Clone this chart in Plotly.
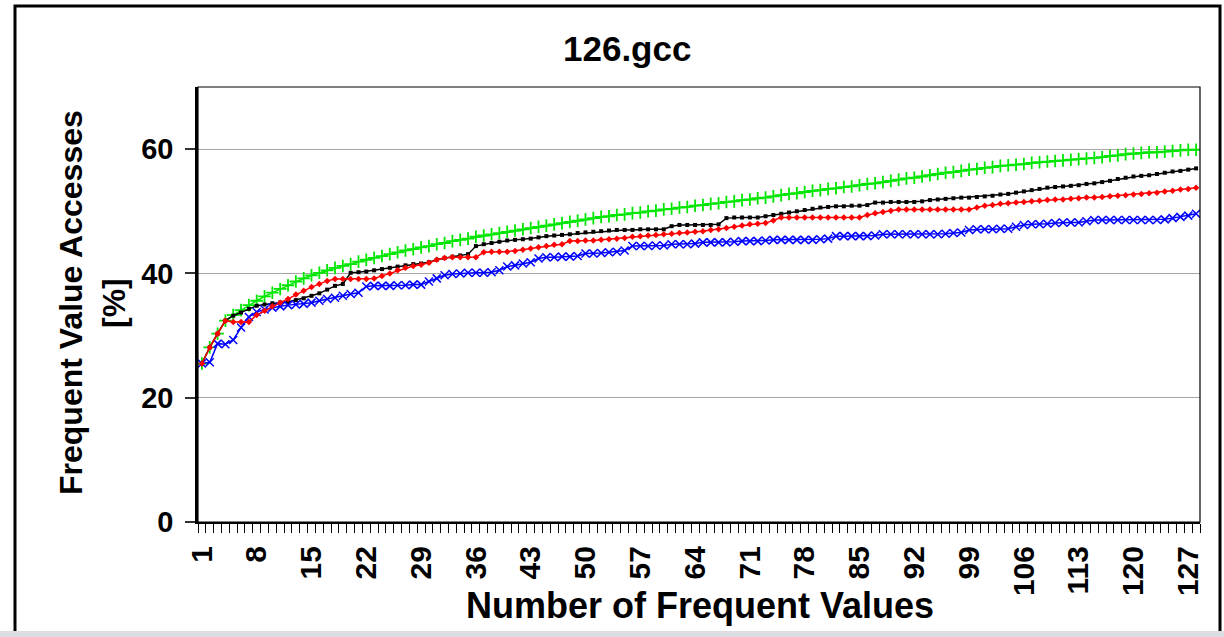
import plotly.graph_objects as go

# Number of frequent values (category axis 1..128)
n_values = list(range(1, 129))

green_pct = [
    25.5, 28.1, 30.3, 32.4, 33.3, 34.1, 34.9, 35.6, 36.3, 36.9,
    37.5, 38.1, 38.7, 39.2, 39.7, 40.1, 40.5, 40.9, 41.2, 41.5,
    41.9, 42.2, 42.5, 42.8, 43.1, 43.4, 43.7, 43.9, 44.2, 44.4,
    44.7, 44.9, 45.2, 45.4, 45.6, 45.9, 46.1, 46.3, 46.5, 46.7,
    46.9, 47.1, 47.3, 47.5, 47.7, 47.9, 48.1, 48.3, 48.5, 48.7,
    48.9, 49.1, 49.2, 49.4, 49.5, 49.7, 49.8, 50.0, 50.1, 50.3,
    50.4, 50.6, 50.7, 50.9, 51.0, 51.2, 51.3, 51.5, 51.6, 51.8,
    51.9, 52.1, 52.2, 52.4, 52.6, 52.8, 52.9, 53.1, 53.3, 53.4,
    53.6, 53.7, 53.9, 54.0, 54.2, 54.4, 54.5, 54.7, 54.9, 55.1,
    55.3, 55.4, 55.6, 55.8, 56.0, 56.2, 56.3, 56.5, 56.7, 56.8,
    57.0, 57.1, 57.3, 57.4, 57.5, 57.6, 57.8, 57.9, 58.0, 58.1,
    58.2, 58.3, 58.4, 58.5, 58.6, 58.7, 58.9, 59.0, 59.2, 59.3,
    59.4, 59.5, 59.5, 59.6, 59.7, 59.8, 59.9, 59.9,
]

black_pct = [
    25.5, 28.1, 30.3, 32.4, 33.2, 33.7, 34.3, 34.8, 35.0, 35.2,
    35.3, 35.4, 35.7, 36.0, 36.4, 36.8, 37.4, 38.0, 38.3, 40.1,
    40.2, 40.3, 40.5, 40.7, 40.9, 41.1, 41.3, 41.5, 41.6, 41.8,
    42.2, 42.5, 42.7, 42.9, 43.1, 44.4, 44.7, 44.9, 45.1, 45.3,
    45.4, 45.5, 45.6, 45.8, 46.0, 46.1, 46.2, 46.3, 46.5, 46.6,
    46.7, 46.8, 46.9, 47.0, 47.0, 47.0, 47.1, 47.1, 47.1, 47.1,
    47.6, 47.8, 47.8, 47.8, 47.8, 47.8, 47.9, 48.9, 49.0, 49.0,
    49.0, 49.0, 49.2, 49.4, 49.6, 49.8, 50.0, 50.2, 50.4, 50.6,
    50.7, 50.8, 50.8, 50.9, 50.9, 51.0, 51.4, 51.4, 51.5, 51.5,
    51.5, 51.5, 51.6, 51.8, 51.9, 52.0, 52.1, 52.2, 52.2, 52.3,
    52.4, 52.5, 52.7, 52.8, 53.0, 53.2, 53.4, 53.6, 53.8, 53.9,
    54.0, 54.1, 54.2, 54.4, 54.5, 54.7, 54.9, 55.2, 55.4, 55.6,
    55.7, 55.8, 56.0, 56.2, 56.4, 56.5, 56.7, 56.9,
]

red_pct = [
    25.5, 28.1, 30.3, 32.4, 32.2, 32.2, 32.2, 33.3, 34.0, 34.7,
    35.3, 35.9, 36.6, 37.2, 37.8, 38.3, 38.8, 39.1, 39.1, 39.1,
    39.1, 39.1, 39.2, 39.6, 40.0, 40.5, 40.9, 41.2, 41.4, 41.7,
    42.2, 42.5, 42.6, 42.6, 42.6, 42.6, 43.4, 43.5, 43.5, 43.5,
    43.6, 43.8, 44.0, 44.2, 44.4, 44.6, 44.7, 45.2, 45.2, 45.3,
    45.3, 45.4, 45.5, 45.6, 45.7, 45.9, 46.0, 46.1, 46.2, 46.3,
    46.4, 46.5, 46.6, 46.7, 46.8, 47.0, 47.1, 47.3, 47.5, 47.7,
    47.9, 48.0, 48.1, 48.5, 49.0, 49.0, 49.0, 49.0, 49.0, 49.0,
    49.0, 49.0, 49.0, 49.0, 49.0, 49.4, 49.7, 49.9, 50.1, 50.3,
    50.3, 50.3, 50.3, 50.3, 50.3, 50.3, 50.3, 50.3, 50.3, 50.6,
    50.9, 51.0, 51.2, 51.3, 51.4, 51.5, 51.6, 51.7, 51.8, 51.9,
    51.9, 52.0, 52.1, 52.2, 52.2, 52.3, 52.4, 52.5, 52.6, 52.7,
    52.8, 52.9, 53.0, 53.2, 53.3, 53.5, 53.6, 53.8,
]

blue_pct = [
    25.5, 25.7, 28.7, 28.6, 29.3, 31.3, 33.0, 33.8, 34.2, 34.5,
    34.7, 34.9, 35.0, 35.1, 35.3, 35.6, 35.9, 36.1, 36.4, 36.7,
    36.9, 37.9, 38.0, 38.0, 38.0, 38.1, 38.1, 38.2, 38.2, 38.7,
    39.2, 39.7, 39.9, 40.0, 40.1, 40.1, 40.1, 40.2, 40.5, 41.1,
    41.3, 41.6, 41.8, 42.4, 42.6, 42.6, 42.7, 42.7, 42.8, 43.2,
    43.2, 43.3, 43.4, 43.5, 43.7, 44.4, 44.4, 44.4, 44.5, 44.5,
    44.7, 44.7, 44.7, 44.8, 45.0, 45.0, 45.0, 45.0, 45.1, 45.2,
    45.2, 45.2, 45.3, 45.4, 45.4, 45.4, 45.4, 45.4, 45.4, 45.5,
    45.6, 46.0, 46.0, 46.0, 46.0, 46.0, 46.1, 46.3, 46.3, 46.3,
    46.3, 46.3, 46.3, 46.3, 46.3, 46.4, 46.5, 46.6, 47.0, 47.1,
    47.1, 47.1, 47.2, 47.2, 47.5, 47.8, 47.9, 47.9, 48.0, 48.1,
    48.2, 48.2, 48.2, 48.4, 48.6, 48.6, 48.6, 48.6, 48.6, 48.6,
    48.6, 48.6, 48.6, 48.7, 48.9, 49.1, 49.3, 49.6,
]

x_tick_vals = list(range(1, 129, 7))
x_tick_text = ["<b>%d</b>" % v for v in x_tick_vals]
y_tick_vals = [0, 20, 40, 60]
y_tick_text = ["<b>%d</b>" % v for v in y_tick_vals]

FONT = "Liberation Sans, Arial, sans-serif"

# Plot-area pixel box, used to place decorations in paper coordinates
L, R, T, B = 198, 1200, 87, 522
W, H = 1224, 637


def px(x):
    return (x - L) / (R - L)


def py(y):
    return (B - y) / (B - T)


fig = go.Figure()

fig.add_trace(go.Scatter(
    x=n_values, y=green_pct, mode="lines+markers",
    line=dict(color="#00e600", width=1.5),
    marker=dict(symbol="cross-thin", size=9, line=dict(color="#00e600", width=1.8)),
))
fig.add_trace(go.Scatter(
    x=n_values, y=black_pct, mode="lines+markers",
    line=dict(color="black", width=1.5),
    marker=dict(symbol="square", size=4, color="black"),
))
fig.add_trace(go.Scatter(
    x=n_values, y=blue_pct, mode="lines+markers",
    line=dict(color="#0000ff", width=1.5),
    marker=dict(symbol="x-thin", size=8, line=dict(color="#0000ff", width=1.5)),
))
fig.add_trace(go.Scatter(
    x=n_values, y=red_pct, mode="lines+markers",
    line=dict(color="#ff0000", width=1.5),
    marker=dict(symbol="diamond", size=5, color="#ff0000"),
))

fig.update_layout(
    width=W, height=H,
    margin=dict(l=L, r=W - R, t=T, b=H - B),
    paper_bgcolor="white", plot_bgcolor="white",
    showlegend=False,
    font=dict(family=FONT, color="black"),
    xaxis=dict(
        range=[0.5, 128.5], showgrid=False, zeroline=False,
        tickmode="array", tickvals=x_tick_vals, ticktext=x_tick_text,
        ticks="", tickangle=-90, ticklabelstandoff=10,
        tickfont=dict(size=30, family=FONT),
        showline=True, linecolor="black", linewidth=2,
        minor=dict(ticks="outside", tick0=0.5, dtick=1, ticklen=9,
                   tickcolor="black", tickwidth=1, showgrid=False),
    ),
    yaxis=dict(
        range=[0, 70], tickmode="array", tickvals=y_tick_vals,
        ticktext=y_tick_text,
        ticks="outside", ticklen=10, tickcolor="#333", tickwidth=2,
        ticklabelstandoff=6,
        tickfont=dict(size=29, family=FONT),
        showgrid=True, gridcolor="#a6a6a6", gridwidth=1.3, zeroline=False,
        showline=True, linecolor="black", linewidth=2.5,
    ),
    shapes=[
        # thin frame around plot area (top and right edges)
        dict(type="rect", xref="paper", yref="paper", x0=0, x1=1, y0=0, y1=1,
             line=dict(color="black", width=1.2), layer="above"),
        # chart frame
        dict(type="rect", xref="paper", yref="paper",
             x0=px(15), x1=px(1220), y0=py(660), y1=py(6),
             line=dict(color="black", width=3), layer="above"),
        # bottom gray strip
        dict(type="rect", xref="paper", yref="paper",
             x0=px(0), x1=px(1224), y0=py(637), y1=py(631),
             line=dict(width=0), fillcolor="#dcdce2", layer="above"),
    ],
    annotations=[
        dict(text="<b>126.gcc</b>", xref="paper", yref="paper",
             x=px(627), y=py(48), xanchor="center", yanchor="middle",
             showarrow=False, font=dict(size=35, family=FONT)),
        dict(text="<b>Number of Frequent Values</b>", xref="paper", yref="paper",
             x=px(700), y=py(605), xanchor="center", yanchor="middle",
             showarrow=False, font=dict(size=36, family=FONT)),
        dict(text="<b>Frequent Value Accesses</b>", xref="paper", yref="paper",
             x=px(71), y=py(303), xanchor="center", yanchor="middle",
             showarrow=False, textangle=-90, font=dict(size=32, family=FONT)),
        dict(text="<b>[%]</b>", xref="paper", yref="paper",
             x=px(114), y=py(303), xanchor="center", yanchor="middle",
             showarrow=False, textangle=-90, font=dict(size=32, family=FONT)),
    ],
)

fig.write_html("out.html")
